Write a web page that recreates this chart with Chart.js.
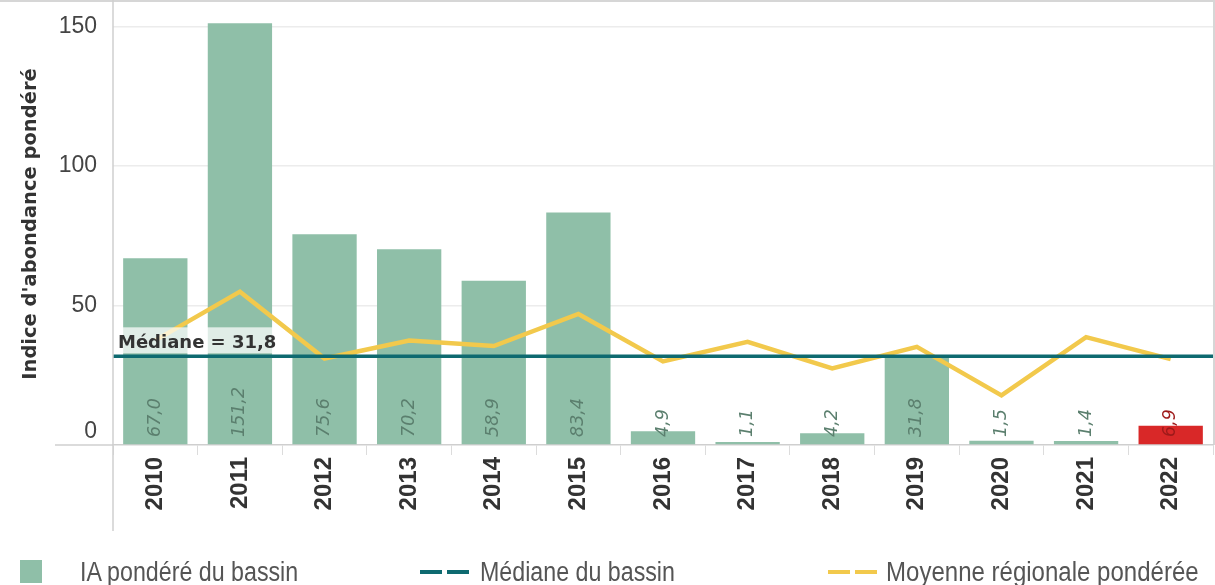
<!DOCTYPE html>
<html>
<head>
<meta charset="utf-8">
<script src="https://cdn.jsdelivr.net/npm/chart.js@4"></script>
<style>
  html, body { margin: 0; padding: 0; background: #fff; }
  #wrap { position: relative; width: 1215px; height: 585px; overflow: hidden; }
  #c { position: absolute; left: 0; top: 0; }
  .lg { position: absolute; font-family: "Liberation Sans", sans-serif; font-size: 27px; color: #555; line-height: 28px; white-space: nowrap; transform: scaleX(0.86); transform-origin: 0 50%; }
  .sw { position: absolute; }
</style>
</head>
<body>
<div id="wrap">
  <canvas id="c" width="1215" height="585"></canvas>
  <div class="sw" style="left:20px;top:560px;width:22px;height:23px;background:#8fbfa8"></div>
  <div class="lg" style="left:80px;top:558px">IA pondéré du bassin</div>
  <div class="sw" style="left:420px;top:570px;width:22px;height:4px;background:#0e6a70"></div>
  <div class="sw" style="left:447px;top:570px;width:22px;height:4px;background:#0e6a70"></div>
  <div class="lg" style="left:480px;top:558px">Médiane du bassin</div>
  <div class="sw" style="left:828px;top:570px;width:22px;height:4px;background:#f2c94c"></div>
  <div class="sw" style="left:855px;top:570px;width:22px;height:4px;background:#f2c94c"></div>
  <div class="lg" style="left:886px;top:558px;transform:scaleX(0.89)">Moyenne régionale pondérée</div>
</div>
<script>
const categories = ["2010","2011","2012","2013","2014","2015","2016","2017","2018","2019","2020","2021","2022"];
const iaPondere = [67.0, 151.2, 75.6, 70.2, 58.9, 83.4, 4.9, 1.1, 4.2, 31.8, 1.5, 1.4, 6.9];
const moyenneRegionale = [37.5, 55, 31, 37.5, 35.5, 47, 30, 37, 27.5, 35.2, 17.8, 38.7, 30.8];
const medianeBassin = 31.8;
const yTicks = [0, 50, 100, 150];
const highlightYear = "2022";

const GREEN = '#8fbfa8', RED = '#d92828', TEAL = '#0e6a70', YELLOW = '#f2c94c';

const fmt = v => v.toFixed(1).replace('.', ',');

const decoPlugin = {
  id: 'deco',
  beforeDraw(chart) {
    const {ctx, chartArea} = chart;
    ctx.save();
    ctx.strokeStyle = '#d6d6d6';
    ctx.lineWidth = 2;
    ctx.beginPath(); ctx.moveTo(0, 1); ctx.lineTo(chart.width, 1); ctx.stroke();
    ctx.beginPath(); ctx.moveTo(chart.width - 1, 0); ctx.lineTo(chart.width - 1, chartArea.bottom); ctx.stroke();
    ctx.restore();
  },
  afterDraw(chart) {
    const {ctx, chartArea, scales} = chart;
    ctx.save();
    ctx.strokeStyle = '#cfcfcf';
    ctx.lineWidth = 1.5;
    ctx.beginPath(); ctx.moveTo(chartArea.left, 0); ctx.lineTo(chartArea.left, scales.x.bottom); ctx.stroke();
    const y0 = scales.y.getPixelForValue(0);
    ctx.beginPath(); ctx.moveTo(chartArea.left - 58, y0); ctx.lineTo(chartArea.left, y0); ctx.stroke();
    ctx.restore();
  },
  afterDatasetsDraw(chart) {
    const {ctx, chartArea, scales} = chart;
    const meta = chart.getDatasetMeta(0);
    const y0 = scales.y.getPixelForValue(0);
    ctx.save();
    ctx.font = 'italic 17.5px "DejaVu Sans"';
    ctx.textAlign = 'left';
    ctx.textBaseline = 'middle';
    meta.data.forEach((bar, i) => {
      ctx.save();
      ctx.translate(bar.x, y0 - 8);
      ctx.rotate(-Math.PI / 2);
      ctx.fillStyle = categories[i] === highlightYear ? '#9e1a1a' : '#5b7f6e';
      ctx.fillText(fmt(iaPondere[i]), 0, 0);
      ctx.restore();
    });
    ctx.restore();
    const ym = scales.y.getPixelForValue(medianeBassin);
    ctx.save();
    ctx.strokeStyle = TEAL;
    ctx.lineWidth = 3.5;
    ctx.beginPath(); ctx.moveTo(chartArea.left, ym); ctx.lineTo(chartArea.right, ym); ctx.stroke();
    const txt = 'Médiane = ' + fmt(medianeBassin);
    ctx.font = 'bold 18px "DejaVu Sans"';
    const w = ctx.measureText(txt).width;
    ctx.fillStyle = 'rgba(255,255,255,0.72)';
    ctx.fillRect(chartArea.left + 4, ym - 29, w + 4, 26);
    ctx.fillStyle = '#333';
    ctx.textAlign = 'left';
    ctx.textBaseline = 'alphabetic';
    ctx.fillText(txt, chartArea.left + 5, ym - 8);
    ctx.restore();
  }
};

new Chart(document.getElementById('c'), {
  data: {
    labels: categories,
    datasets: [
      {
        type: 'bar',
        label: 'IA pondéré du bassin',
        data: iaPondere,
        backgroundColor: categories.map(c => c === highlightYear ? RED : GREEN),
        barPercentage: 0.76,
        categoryPercentage: 1,
        order: 2
      },
      {
        type: 'line',
        label: 'Moyenne régionale pondérée',
        data: moyenneRegionale,
        borderColor: YELLOW,
        borderWidth: 4.5,
        pointRadius: 0,
        tension: 0,
        order: 1
      }
    ]
  },
  options: {
    responsive: false,
    animation: false,
    layout: { padding: { top: 3, right: 2, bottom: 54, left: 0 } },
    plugins: { legend: { display: false }, tooltip: { enabled: false } },
    scales: {
      x: {
        afterFit: s => { s.height = 86; s.paddingLeft = 0; s.paddingRight = 0; },
        grid: { drawOnChartArea: false, tickLength: 10, color: '#dcdcdc', offset: true },
        border: { color: '#cfcfcf', width: 1.5 },
        ticks: {
          minRotation: 90, maxRotation: 90, padding: 2,
          color: '#333',
          font: { family: '"Liberation Sans"', size: 24, weight: 'bold' }
        }
      },
      y: {
        min: 0, max: 158.5,
        afterFit: s => { s.width = 113; s.paddingTop = 0; s.paddingBottom = 0; },
        afterBuildTicks: s => { s.ticks = yTicks.map(v => ({ value: v })); },
        border: { display: false },
        grid: { drawTicks: false, color: ctx => (ctx.tick && ctx.tick.value === 0) ? 'rgba(0,0,0,0)' : '#ececec', lineWidth: 1.5 },
        ticks: {
          padding: 16,
          color: '#444',
          font: { family: '"Liberation Sans"', size: 23 },
          callback: v => v === 0 ? ['0', ''] : String(v)
        },
        title: {
          display: true,
          text: "Indice d'abondance pondéré",
          color: '#333',
          font: { family: '"DejaVu Sans"', size: 19.5, weight: 'bold' },
          padding: { top: 19, bottom: 0 }
        }
      }
    }
  },
  plugins: [decoPlugin]
});
</script>
</body>
</html>
